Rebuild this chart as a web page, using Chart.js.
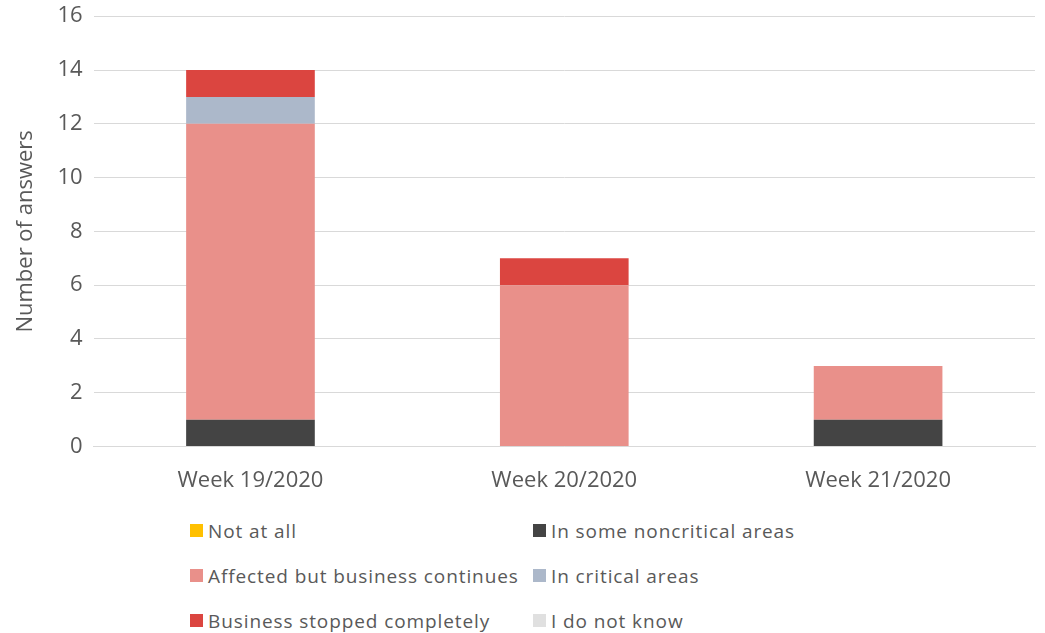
<!DOCTYPE html>
<html>
  <head>
    <meta charset="utf-8" />
    <title>Number of answers</title>
    <script src="https://cdn.jsdelivr.net/npm/chart.js@4/dist/chart.umd.min.js"></script>
    <style>
      body { margin: 0; background: #fff; font-family: "Open Sans", "Noto Sans", sans-serif; }
      #wrap { position: relative; width: 1045px; height: 633px; overflow: hidden; }
      #chartBox { position: absolute; left: 0; top: -8px; width: 1045px; height: 515px; }
      #legend {
        position: absolute; left: 190px; top: 508px; width: 700px;
        display: grid; grid-template-columns: 343px 343px; row-gap: 0;
        color: #595959; font-size: 19px; letter-spacing: 0.9px;
      }
      #legend div { height: 45px; display: flex; align-items: center; white-space: nowrap; }
      #legend span.sw { display: inline-block; width: 13px; height: 13px; margin-right: 5px; }
    </style>
    <script>
      // data
      var weeks = ["Week 19/2020", "Week 20/2020", "Week 21/2020"];
      var seriesNames = [
        "Not at all",
        "In some noncritical areas",
        "Affected but business continues",
        "In critical areas",
        "Business stopped completely",
        "I do not know"
      ];
      var notAtAll = [0, 0, 0];
      var noncritical = [1, 0, 1];
      var affected = [11, 6, 2];
      var critical = [1, 0, 0];
      var stopped = [1, 1, 0];
      var dontKnow = [0, 0, 0];
      var colours = ["#ffc000", "#444444", "#e9908a", "#acb8ca", "#db4540", "#e0e0e0"];
      var yTicks = [0, 2, 4, 6, 8, 10, 12, 14, 16];
    </script>
  </head>
  <body>
    <div id="wrap">
      <div id="chartBox"><canvas id="c"></canvas></div>
      <div id="legend"></div>
    </div>
    <script>
      var values = [notAtAll, noncritical, affected, critical, stopped, dontKnow];
      var datasets = seriesNames.map(function (name, i) {
        return {
          label: name,
          data: values[i],
          backgroundColor: colours[i],
          categoryPercentage: 0.41,
          barPercentage: 1
        };
      });

      Chart.defaults.font.family = '"Open Sans", "Noto Sans", sans-serif';
      Chart.defaults.color = "#595959";

      var chart = new Chart(document.getElementById("c"), {
        type: "bar",
        data: { labels: weeks, datasets: datasets },
        options: {
          responsive: true,
          maintainAspectRatio: false,
          animation: false,
          // the top label needs room, so the box itself sits a little above the page top
          layout: { padding: { top: 0, right: 10, left: 6, bottom: 0 } },
          plugins: { legend: { display: false }, tooltip: { enabled: false } },
          scales: {
            x: {
              stacked: true,
              grid: { display: false },
              border: { display: true, color: "#d9d9d9" },
              ticks: { font: { size: 22 }, padding: 13 }
            },
            y: {
              stacked: true,
              min: 0,
              max: 16,
              afterBuildTicks: function (axis) {
                axis.ticks = yTicks.map(function (v) { return { value: v }; });
              },
              grid: { color: "#d9d9d9", drawTicks: false },
              border: { display: false },
              ticks: { font: { size: 22 }, padding: 11 },
              title: { display: true, text: "Number of answers", font: { size: 22 }, padding: 7 }
            }
          }
        }
      });

      // legend in two columns, as in the picture
      var lg = document.getElementById("legend");
      seriesNames.forEach(function (name, i) {
        var d = document.createElement("div");
        d.innerHTML = '<span class="sw" style="background:' + colours[i] + '"></span>' + name;
        lg.appendChild(d);
      });
    </script>
  </body>
</html>
